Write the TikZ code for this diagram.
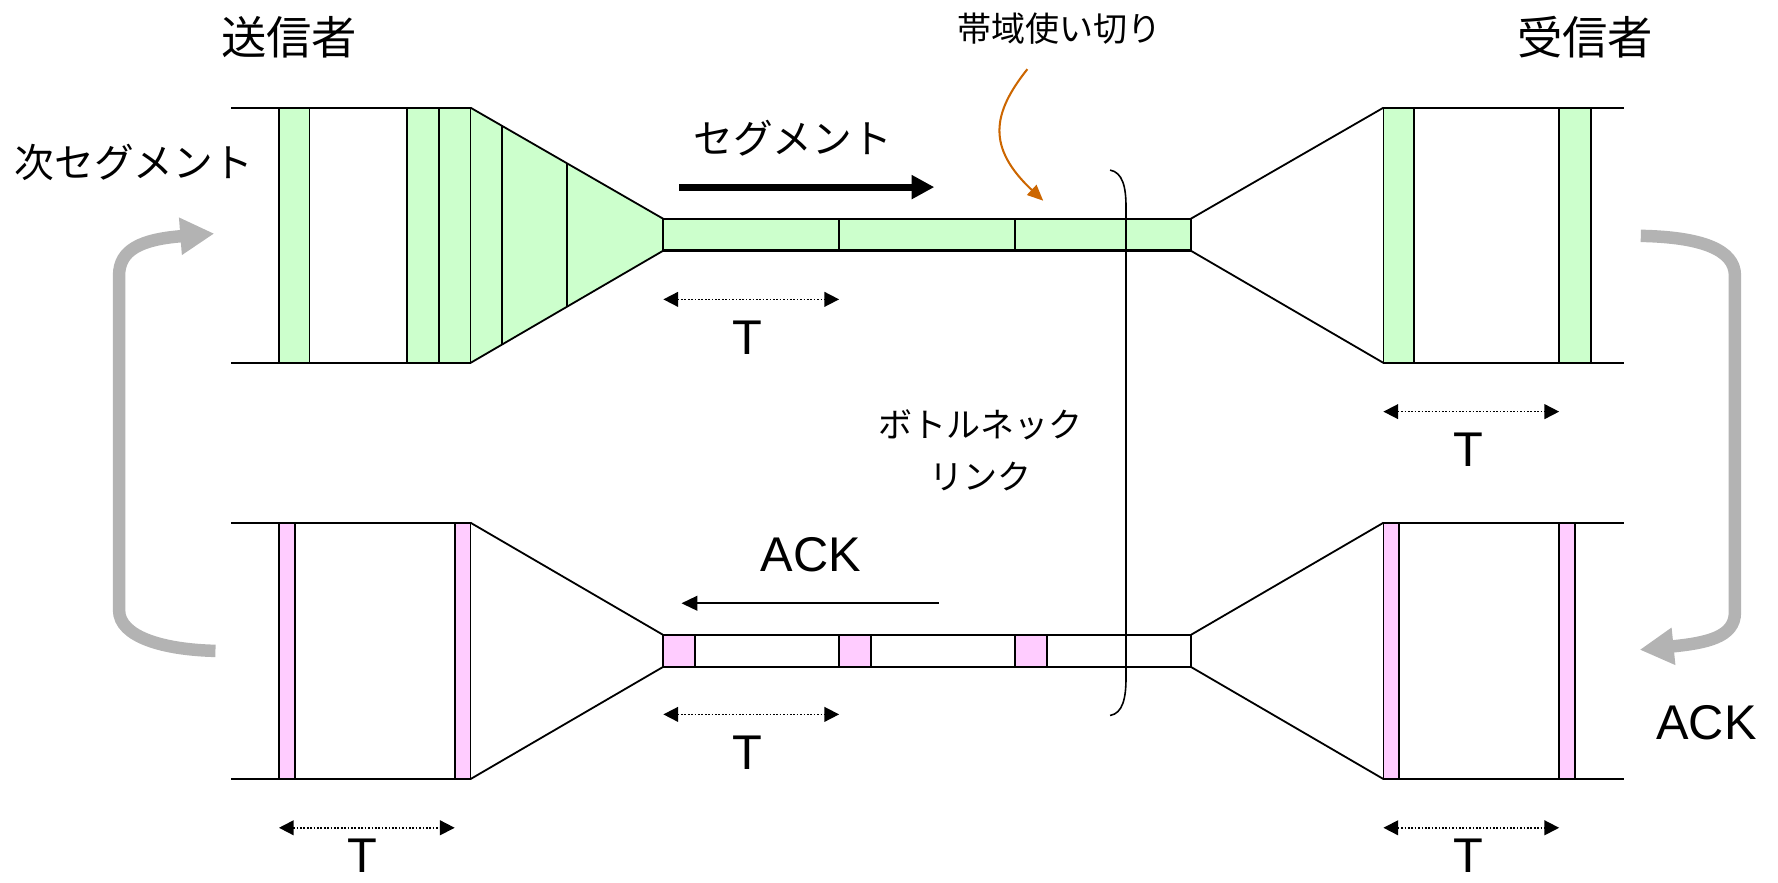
\documentclass[tikz,border=0pt]{standalone}
\usepackage{fontspec}
\setmainfont{Liberation Sans}
\newfontfamily\jpfont{Noto Sans CJK JP}
\usetikzlibrary{arrows.meta}
\definecolor{seggreen}{HTML}{CCFFCC}
\definecolor{ackpink}{HTML}{FFCCFF}
\definecolor{loopgray}{HTML}{B3B3B3}
\definecolor{noteorange}{HTML}{CC6600}
\begin{document}
\begin{tikzpicture}[x=0.5pt,y=-0.5pt,
  rail/.style={line width=1pt},
  edgeline/.style={line width=0.8pt},
  slotg/.style={draw, line width=0.8pt, fill=seggreen},
  slotp/.style={draw, line width=0.8pt, fill=ackpink},
  tdim/.style={line width=0.75pt, dash pattern=on 0.75pt off 0.75pt,
    {Triangle[length=6.5pt,width=6.5pt]}-{Triangle[length=6.5pt,width=6.5pt]}},
  tlabel/.style={font=\fontsize{21.5}{24}\selectfont, inner sep=0pt},
  jplarge/.style={font=\jpfont\fontsize{20}{24}\selectfont, inner sep=0pt},
  jpmid/.style={font=\jpfont\fontsize{17.5}{21}\selectfont, inner sep=0pt},
  jpsmall/.style={font=\jpfont\fontsize{15}{23}\selectfont, inner sep=0pt, align=center},
  looparrow/.style={draw=loopgray, line width=5.5pt,
    -{Triangle[length=15pt,width=15.5pt,fill=loopgray]}},
  flowarrow/.style={line width=3pt, -{Triangle[length=10pt,width=10pt]}},
  ackarrow/.style={line width=0.75pt, -{Triangle[length=7pt,width=6.5pt]}},
  notearrow/.style={draw=noteorange, line width=0.9pt,
    -{Triangle[length=7pt,width=6pt,fill=noteorange]}},
]
\useasboundingbox (0,0) rectangle (1568,778);

% ---------- data path (top) ----------
\fill[seggreen] (415,95) -- (585,193) -- (585,221) -- (415,320) -- cycle;
\draw[slotg] (246,95) rectangle (273,320);
\draw[slotg] (359,95) rectangle (387,320);
\draw[slotg] (387,95) rectangle (415,320);
\draw[edgeline] (443,111.1) -- (443,303.9);
\draw[edgeline] (500,144) -- (500,271);
\draw[edgeline] (415,95) -- (585,193);
\draw[edgeline] (415,320) -- (585,221);
\draw[rail] (204,95) -- (415,95);
\draw[rail] (204,320) -- (415,320);

\draw[slotg, line width=1pt] (585,193) rectangle (1050,221);
\draw[edgeline] (740,193) -- (740,221);
\draw[edgeline] (895,193) -- (895,221);

\draw[edgeline] (1050,193) -- (1220,95);
\draw[edgeline] (1050,221) -- (1220,320);
\draw[slotg] (1220,95) rectangle (1247,320);
\draw[slotg] (1375,95) rectangle (1403,320);
\draw[rail] (1220,95) -- (1432,95);
\draw[rail] (1220,320) -- (1432,320);

% ---------- ack path (bottom) ----------
\draw[slotp] (246,461) rectangle (260,687);
\draw[slotp] (401,461) rectangle (415,687);
\draw[rail] (204,461) -- (415,461);
\draw[rail] (204,687) -- (415,687);
\draw[edgeline] (415,461) -- (585,560);
\draw[edgeline] (415,687) -- (585,588);

\draw[rail] (585,560) rectangle (1050,588);
\draw[slotp] (585,560) rectangle (613,588);
\draw[slotp] (740,560) rectangle (768,588);
\draw[slotp] (895,560) rectangle (923,588);
\draw[rail] (585,560) rectangle (1050,588);

\draw[edgeline] (1050,560) -- (1220,461);
\draw[edgeline] (1050,588) -- (1220,687);
\draw[slotp] (1220,461) rectangle (1234,687);
\draw[slotp] (1375,461) rectangle (1389,687);
\draw[rail] (1220,461) -- (1432,461);
\draw[rail] (1220,687) -- (1432,687);

% ---------- bottleneck bracket ----------
\draw[line width=0.7pt] (979,150) .. controls (990,152) and (993,165) .. (993,182)
  -- (993,598) .. controls (993,616) and (990,629) .. (979,631);

% ---------- coordinates ----------
\coordinate (d1a) at (585,264);  \coordinate (d1b) at (740,264);
\coordinate (d2a) at (1220,363); \coordinate (d2b) at (1375,363);
\coordinate (d3a) at (585,630);  \coordinate (d3b) at (740,630);
\coordinate (d4a) at (246,730);  \coordinate (d4b) at (401,730);
\coordinate (d5a) at (1220,730); \coordinate (d5b) at (1375,730);
\coordinate (segfrom) at (599,165); \coordinate (segto) at (824,165);
\coordinate (ackfrom) at (828,532); \coordinate (ackto) at (601,532);
\coordinate (notefrom) at (906,61); \coordinate (noteto) at (920,177);
\coordinate (lstart) at (190,574); \coordinate (lend) at (189,206);
\coordinate (rstart) at (1447,208); \coordinate (rend) at (1446,573);

% ---------- T dimensions ----------
\draw[tdim] (d1a) -- (d1b);
\draw[tdim] (d2a) -- (d2b);
\draw[tdim] (d3a) -- (d3b);
\draw[tdim] (d4a) -- (d4b);
\draw[tdim] (d5a) -- (d5b);
\node[tlabel] (t1) at (659,298) {T};
\node[tlabel] (t2) at (1295,397) {T};
\node[tlabel] (t3) at (659,664) {T};
\node[tlabel] (t4) at (320,755) {T};
\node[tlabel] (t5) at (1295,755) {T};

% ---------- arrows ----------
\draw[flowarrow] (segfrom) -- (segto);
\draw[ackarrow] (ackfrom) -- (ackto);
\draw[notearrow] (notefrom) .. controls (875,100) and (870,130) .. (noteto);
\draw[looparrow] (lstart) .. controls (145,573) and (105,562) .. (105,538)
  -- (105,243) .. controls (105,220) and (125,211) .. (lend);
\draw[looparrow] (rstart) .. controls (1500,209) and (1530,220) .. (1530,243)
  -- (1530,540) .. controls (1530,562) and (1505,567) .. (rend);

% ---------- labels ----------
\node[jplarge] (sender) at (255,33) {送信者};
\node[jplarge] (receiver) at (1398,33) {受信者};
\node[jpmid] (nextseg) at (118,143) {次セグメント};
\node[jpmid] (seglabel) at (699,122) {セグメント};
\node[jpsmall] (fullbw) at (934,25) {帯域使い切り};
\node[jpsmall] (bottleneck) at (865,397) {ボトルネック\\リンク};
\node[tlabel] (acklabel) at (715,489) {ACK};
\node[tlabel] (ackright) at (1505,637) {ACK};
\end{tikzpicture}
\end{document}
